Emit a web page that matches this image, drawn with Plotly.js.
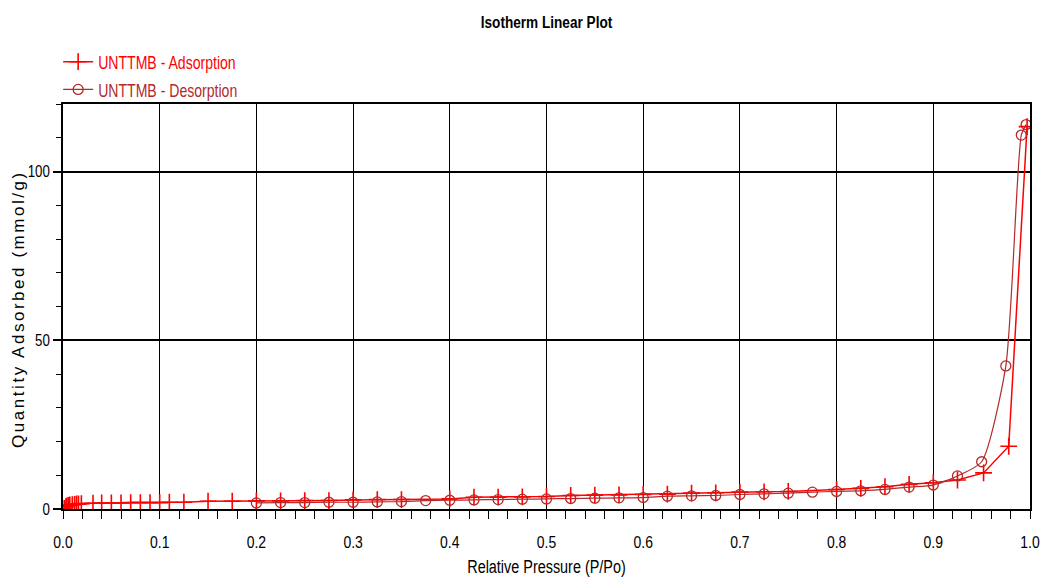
<!DOCTYPE html>
<html>
<head>
<meta charset="utf-8">
<script src="https://cdn.plot.ly/plotly-3.0.1.min.js"></script>
<style>html,body{margin:0;padding:0;background:#fff;}#chart{width:1046px;height:577px;}</style>
</head>
<body>
<div id="chart"></div>
<script>
const adsP = [0.0013,0.003,0.004,0.0055,0.007,0.0096,0.012,0.014,0.016,0.019,0.031,0.04,0.05,0.06,0.07,0.08,0.09,0.1,0.11,0.125,0.15,0.175,0.2,0.225,0.25,0.275,0.3,0.325,0.35,0.4,0.425,0.45,0.475,0.5,0.525,0.55,0.575,0.6,0.625,0.65,0.675,0.7,0.725,0.75,0.8,0.825,0.85,0.875,0.9,0.925,0.952,0.978,0.997];
const adsQ = [0.2,0.7,0.9,1.1,1.2,1.3,1.4,1.5,1.5,1.6,1.7,1.8,1.8,1.8,1.9,1.9,1.9,1.9,2.0,2.0,2.3,2.3,2.4,2.4,2.5,2.5,2.7,2.8,2.8,3.0,3.5,3.5,3.6,3.7,4.0,4.1,4.2,4.3,4.4,4.7,4.8,5.0,5.1,5.2,5.8,6.1,6.6,7.3,7.8,8.6,10.7,18.6,113.3];
const desP = [0.996,0.991,0.975,0.95,0.925,0.9,0.875,0.85,0.825,0.8,0.775,0.75,0.725,0.7,0.675,0.65,0.625,0.6,0.575,0.55,0.525,0.5,0.475,0.45,0.425,0.4,0.375,0.35,0.325,0.3,0.275,0.25,0.225,0.2];
const desQ = [113.9,110.8,42.4,14.0,9.8,7.1,6.5,5.8,5.4,5.2,5.0,4.7,4.5,4.3,4.0,3.9,3.8,3.4,3.3,3.2,3.1,3.0,2.9,2.8,2.7,2.6,2.5,2.2,2.1,2.0,2.0,1.9,1.9,1.8];
const xTickVals = [0,0.1,0.2,0.3,0.4,0.5,0.6,0.7,0.8,0.9,1.0];
const xTickText = ["0.0","0.1","0.2","0.3","0.4","0.5","0.6","0.7","0.8","0.9","1.0"];
const yTickVals = [0,50,100];
const yTickText = ["0","50","100"];
const yTitle = "Quantity Adsorbed (mmol/g)";

const RED = "#FF0000", DES = "#B22A2A";
const FONT = "Liberation Sans, Arial, sans-serif";

const traces = [
  {x: adsP, y: adsQ, type: "scatter", mode: "lines+markers", name: '<span style="color:#FF0000">UNTTMB - Adsorption</span>',
   line: {color: RED, width: 1.5}, marker: {symbol: "cross-thin-open", size: 12, line: {color: RED, width: 1.6}, color: RED},
   legendgroup: "a"},
  {x: desP, y: desQ, type: "scatter", mode: "lines+markers", name: '<span style="color:#B22A2A">UNTTMB - Desorption</span>',
   line: {color: DES, width: 1.2, shape: "spline", smoothing: 0.6}, marker: {symbol: "circle-open", size: 10, line: {color: DES, width: 1.3}, color: DES},
   legendgroup: "d"}
];

const layout = {
  width: 1046, height: 577,
  margin: {l: 63, r: 16, t: 104, b: 68},
  paper_bgcolor: "#fff", plot_bgcolor: "#fff",
  title: {text: "<b>Isotherm Linear Plot</b>", x: 0.5, xref: "paper", y: 0.962, yanchor: "middle", font: {family: FONT, size: 16, color: "#000"}},
  showlegend: true,
  legend: {x: -0.005, xanchor: "left", y: 0.988, yanchor: "bottom", font: {family: FONT, size: 19}, bgcolor: "rgba(0,0,0,0)",
           itemwidth: 30, traceorder: "grouped", tracegroupgap: 0, maxheight: 120},
  xaxis: {
    range: [0, 1], tickvals: xTickVals, ticktext: xTickText,
    showgrid: true, gridcolor: "#000", gridwidth: 1,
    showline: true, linecolor: "#000", linewidth: 2, mirror: true,
    ticks: "outside", ticklen: 8, tickcolor: "#000", tickwidth: 1,
    minor: {dtick: 0.02, tick0: 0, ticks: "outside", ticklen: 8, tickcolor: "#000", tickwidth: 1, showgrid: false},
    tickfont: {family: FONT, size: 17, color: "#000"},
    ticklabelstandoff: 9,
    zeroline: false,
    title: {text: "Relative Pressure (P/Po)", font: {family: FONT, size: 18, color: "#000"}, standoff: 10}
  },
  yaxis: {
    range: [0, 120], tickvals: yTickVals, ticktext: yTickText,
    showgrid: true, gridcolor: "#000", gridwidth: 1.6,
    showline: true, linecolor: "#000", linewidth: 1.5, mirror: true,
    ticks: "outside", ticklen: 8, tickcolor: "#000", tickwidth: 1.5,
    minor: {dtick: 10, tick0: 0, ticks: "outside", ticklen: 5, tickcolor: "#000", tickwidth: 1, showgrid: false},
    tickfont: {family: FONT, size: 17, color: "#000"},
    zeroline: false
  },
  annotations: [{
    text: yTitle, textangle: -90, xref: "paper", yref: "paper", x: -0.0465, y: 0.491,
    xanchor: "center", yanchor: "middle", showarrow: false,
    font: {family: FONT, size: 17, color: "#000"}
  }]
};

function fitText(sel, factor, mode) {
  document.querySelectorAll(sel).forEach(function (el) {
    if (el.getAttribute("data-fitted")) return;
    const len = el.getComputedTextLength();
    if (len > 0) {
      el.setAttribute("textLength", (len * factor).toFixed(1));
      el.setAttribute("lengthAdjust", mode || "spacingAndGlyphs");
      el.setAttribute("data-fitted", "1");
    }
  });
}
function fitAll() {
  fitText(".legendtext", 0.74);
  fitText(".xtick text", 0.82);
  fitText(".ytick text", 0.78);
  fitText(".gtitle", 0.85);
  fitText(".g-xtitle text", 0.8);
  fitText(".annotation-text", 1.3, "spacing");
}

const gd = document.getElementById("chart");
Plotly.newPlot(gd, traces, layout, {displayModeBar: false, responsive: false}).then(function () {
  fitAll();
  gd.on("plotly_afterplot", fitAll);
});
</script>
</body>
</html>
